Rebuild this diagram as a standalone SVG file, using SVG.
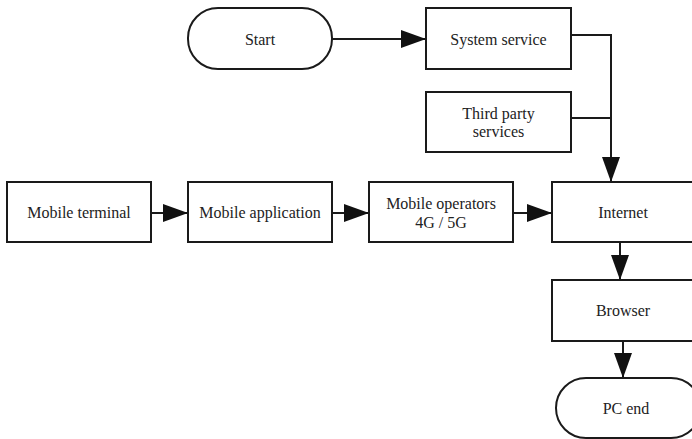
<svg xmlns="http://www.w3.org/2000/svg" width="692" height="439" viewBox="0 0 692 439">
<defs>
<style>
.box{fill:#fff;stroke:#1a1a1a;stroke-width:2}
.lbl{font-family:"Liberation Serif","Times New Roman",serif;font-size:16px;fill:#222;text-anchor:middle;dominant-baseline:central}
.edge{fill:none;stroke:#1a1a1a;stroke-width:2}
</style>
<marker id="arr" markerUnits="userSpaceOnUse" markerWidth="26" markerHeight="20" refX="25" refY="9" orient="auto">
<path d="M0,0 L25,9 L0,18 Z" fill="#111"/>
</marker>
</defs>
<rect width="692" height="439" fill="#fff"/>
<g id="connectors">
<line class="edge" x1="332" y1="39" x2="426" y2="39" marker-end="url(#arr)"/>
<polyline class="edge" points="571,35 611,35 611,118"/>
<line class="edge" x1="571" y1="118" x2="611" y2="118"/>
<line class="edge" x1="611" y1="118" x2="611" y2="182" marker-end="url(#arr)"/>
<line class="edge" x1="151" y1="213" x2="188" y2="213" marker-end="url(#arr)"/>
<line class="edge" x1="332" y1="213" x2="369" y2="213" marker-end="url(#arr)"/>
<line class="edge" x1="513" y1="213" x2="552" y2="213" marker-end="url(#arr)"/>
<line class="edge" x1="620" y1="242" x2="620" y2="280" marker-end="url(#arr)"/>
<line class="edge" x1="623" y1="341" x2="623" y2="378" marker-end="url(#arr)"/>
</g>
<g id="start"><rect class="box" x="188" y="8" width="144" height="61" rx="30"/><text class="lbl" x="260" y="39">Start</text></g>
<g id="system-service"><rect class="box" x="426" y="8" width="145" height="61"/><text class="lbl" x="498.5" y="39">System service</text></g>
<g id="third-party"><rect class="box" x="426" y="92" width="145" height="60"/><text class="lbl" x="498.5" y="113">Third party</text><text class="lbl" x="498.5" y="131">services</text></g>
<g id="mobile-terminal"><rect class="box" x="7" y="182" width="144" height="60"/><text class="lbl" x="79" y="212">Mobile terminal</text></g>
<g id="mobile-application"><rect class="box" x="188" y="182" width="144" height="60"/><text class="lbl" x="260" y="212">Mobile application</text></g>
<g id="mobile-operators"><rect class="box" x="369" y="182" width="144" height="60"/><text class="lbl" x="441" y="203">Mobile operators</text><text class="lbl" x="441" y="222">4G / 5G</text></g>
<g id="internet"><rect class="box" x="552" y="182" width="145" height="60"/><text class="lbl" x="623" y="212">Internet</text></g>
<g id="browser"><rect class="box" x="552" y="280" width="145" height="61"/><text class="lbl" x="623" y="310">Browser</text></g>
<g id="pc-end"><rect class="box" x="556" y="378" width="145" height="60" rx="30"/><text class="lbl" x="626" y="408">PC end</text></g>
</svg>
